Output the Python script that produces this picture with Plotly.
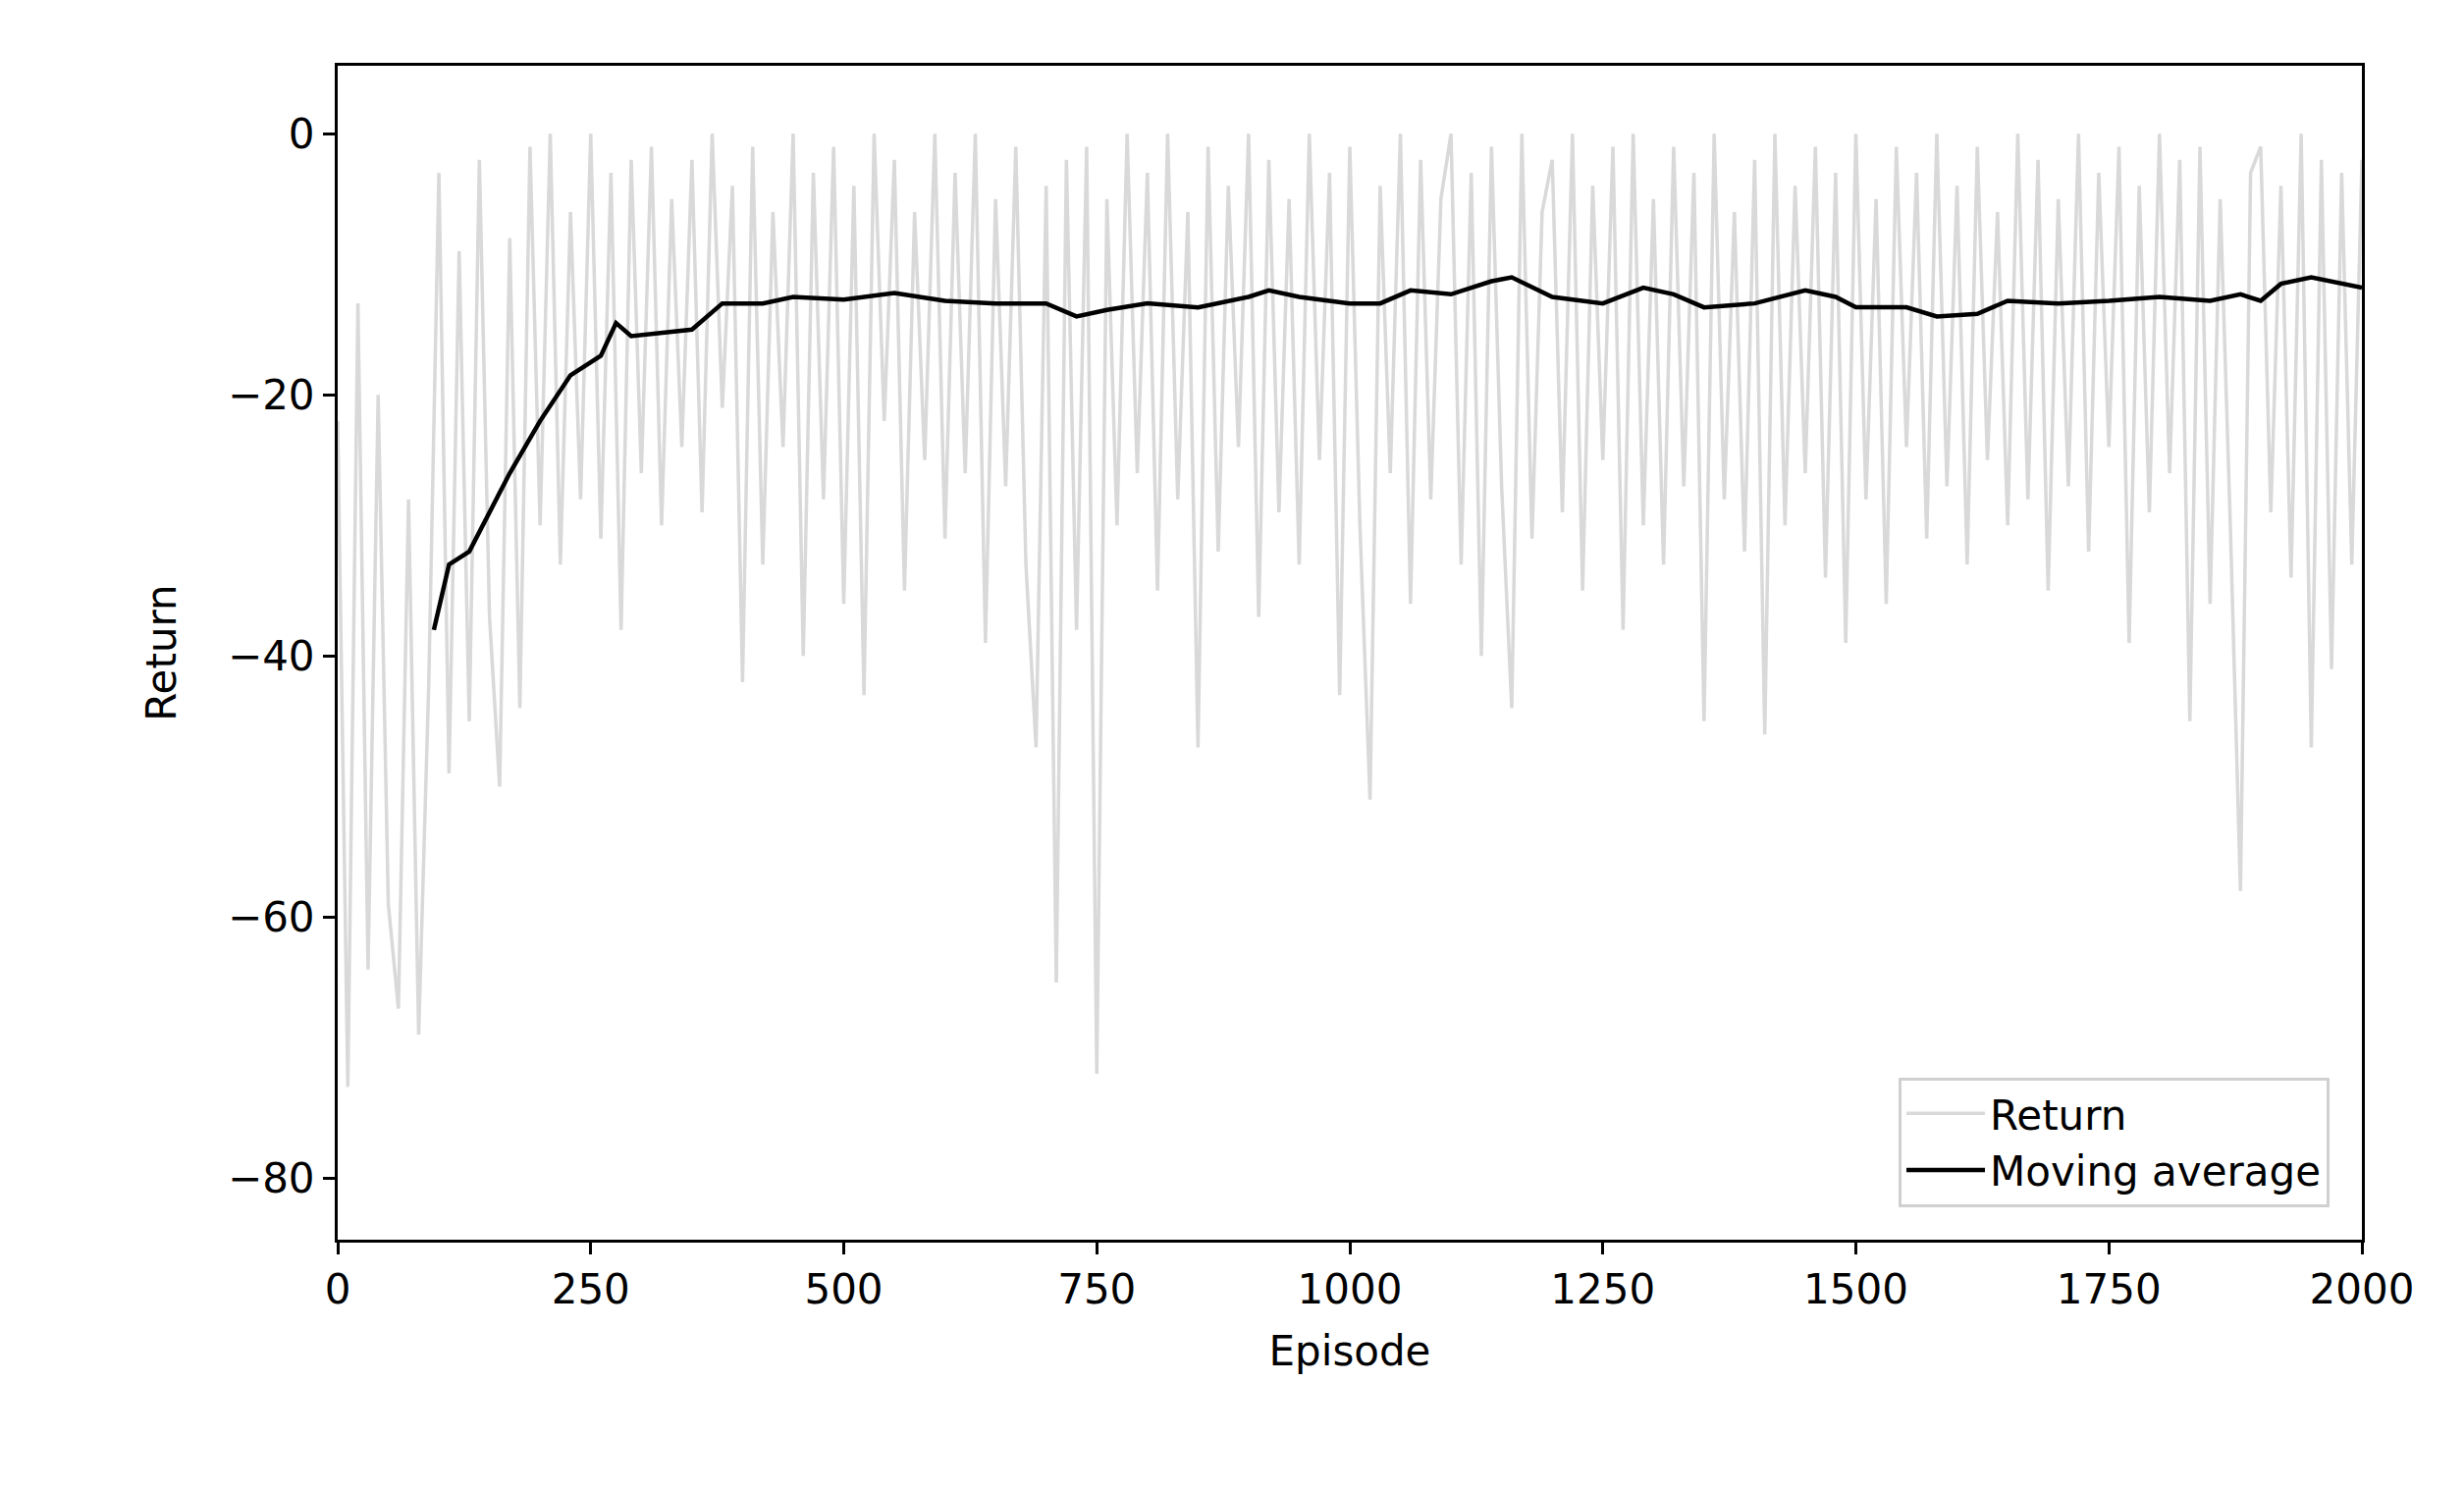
import plotly.graph_objects as go

ret_episode = list(range(0, 2001, 10))
ret_value = [
    -22, -73, -13, -64, -20, -59, -67, -28, -69, -42,
    -3, -49, -9, -45, -2, -37, -50, -8, -44, -1,
    -30, 0, -33, -6, -28, 0, -31, -3, -38, -2,
    -26, -1, -30, -5, -24, -2, -29, 0, -21, -4,
    -42, -1, -33, -6, -24, 0, -40, -3, -28, -1,
    -36, -4, -43, 0, -22, -2, -35, -6, -25, 0,
    -31, -3, -26, 0, -39, -5, -27, -1, -33, -47,
    -4, -65, -2, -38, -1, -72, -5, -30, 0, -26,
    -3, -35, 0, -28, -6, -47, -1, -32, -4, -24,
    0, -37, -2, -29, -5, -33, 0, -25, -3, -43,
    -1, -30, -51, -4, -26, 0, -36, -2, -28, -5,
    0, -33, -3, -40, -1, -27, -44, 0, -31, -6,
    -2, -29, 0, -35, -4, -25, -1, -38, 0, -30,
    -5, -33, -1, -27, -3, -45, 0, -28, -6, -32,
    -2, -46, 0, -30, -4, -26, -1, -34, -3, -39,
    0, -28, -5, -36, -1, -24, -3, -31, 0, -27,
    -4, -33, -1, -25, -6, -30, 0, -28, -2, -35,
    -5, -27, 0, -32, -3, -24, -1, -39, -4, -29,
    0, -26, -2, -45, -1, -36, -5, -30, -58, -3,
    -1, -29, -4, -34, 0, -47, -2, -41, -3, -33,
    -2,
]

ma_episode = [95, 110, 130, 150, 170, 200, 230, 260, 275, 290, 350, 380, 420,
              450, 500, 550, 600, 650, 700, 730, 760, 800, 850, 900, 920, 950,
              1000, 1030, 1060, 1100, 1140, 1160, 1200, 1250, 1290, 1320, 1350,
              1400, 1450, 1480, 1500, 1550, 1580, 1620, 1650, 1700, 1750, 1800,
              1850, 1880, 1900, 1920, 1950, 2000]
ma_value = [-38, -33, -32, -29, -26, -22, -18.5, -17, -14.5, -15.5, -15, -13,
            -13, -12.5, -12.7, -12.2, -12.8, -13, -13, -14, -13.5, -13, -13.3,
            -12.5, -12, -12.5, -13, -13, -12, -12.3, -11.3, -11, -12.5, -13,
            -11.8, -12.3, -13.3, -13, -12, -12.5, -13.3, -13.3, -14, -13.8,
            -12.8, -13, -12.8, -12.5, -12.8, -12.3, -12.8, -11.5, -11, -11.8]

fig = go.Figure()
fig.add_trace(go.Scatter(x=ret_episode, y=ret_value, mode="lines", name="Return",
                         line=dict(color="#d9d9d9", width=3.5)))
fig.add_trace(go.Scatter(x=ma_episode, y=ma_value, mode="lines", name="Moving average",
                         line=dict(color="black", width=4.5)))

axis = dict(showline=True, linecolor="black", linewidth=3, mirror=True,
            ticks="outside", ticklen=12, tickwidth=3, tickcolor="black",
            showgrid=False, zeroline=False, tickfont=dict(size=42))

fig.update_layout(
    width=2510, height=1517,
    paper_bgcolor="white", plot_bgcolor="white",
    font=dict(family="DejaVu Sans", size=42, color="black"),
    margin=dict(l=336, r=112, t=59, b=262),
    xaxis=dict(axis, range=[0, 2000], tickvals=[0, 250, 500, 750, 1000, 1250, 1500, 1750, 2000],
               title=dict(text="Episode", standoff=25, font=dict(size=42))),
    yaxis=dict(axis, range=[-84.7, 5.2], tickvals=[0, -20, -40, -60, -80],
               ticktext=["0", "\u221220", "\u221240", "\u221260", "\u221280"],
               title=dict(text="Return", standoff=40, font=dict(size=42))),
    showlegend=True,
    legend=dict(x=0.984, y=0.028, xanchor="right", yanchor="bottom",
                bgcolor="rgba(255,255,255,0.8)", bordercolor="#d0d0d0", borderwidth=3,
                font=dict(size=42), itemwidth=80, tracegroupgap=10),
)

fig.write_html("out.html")
